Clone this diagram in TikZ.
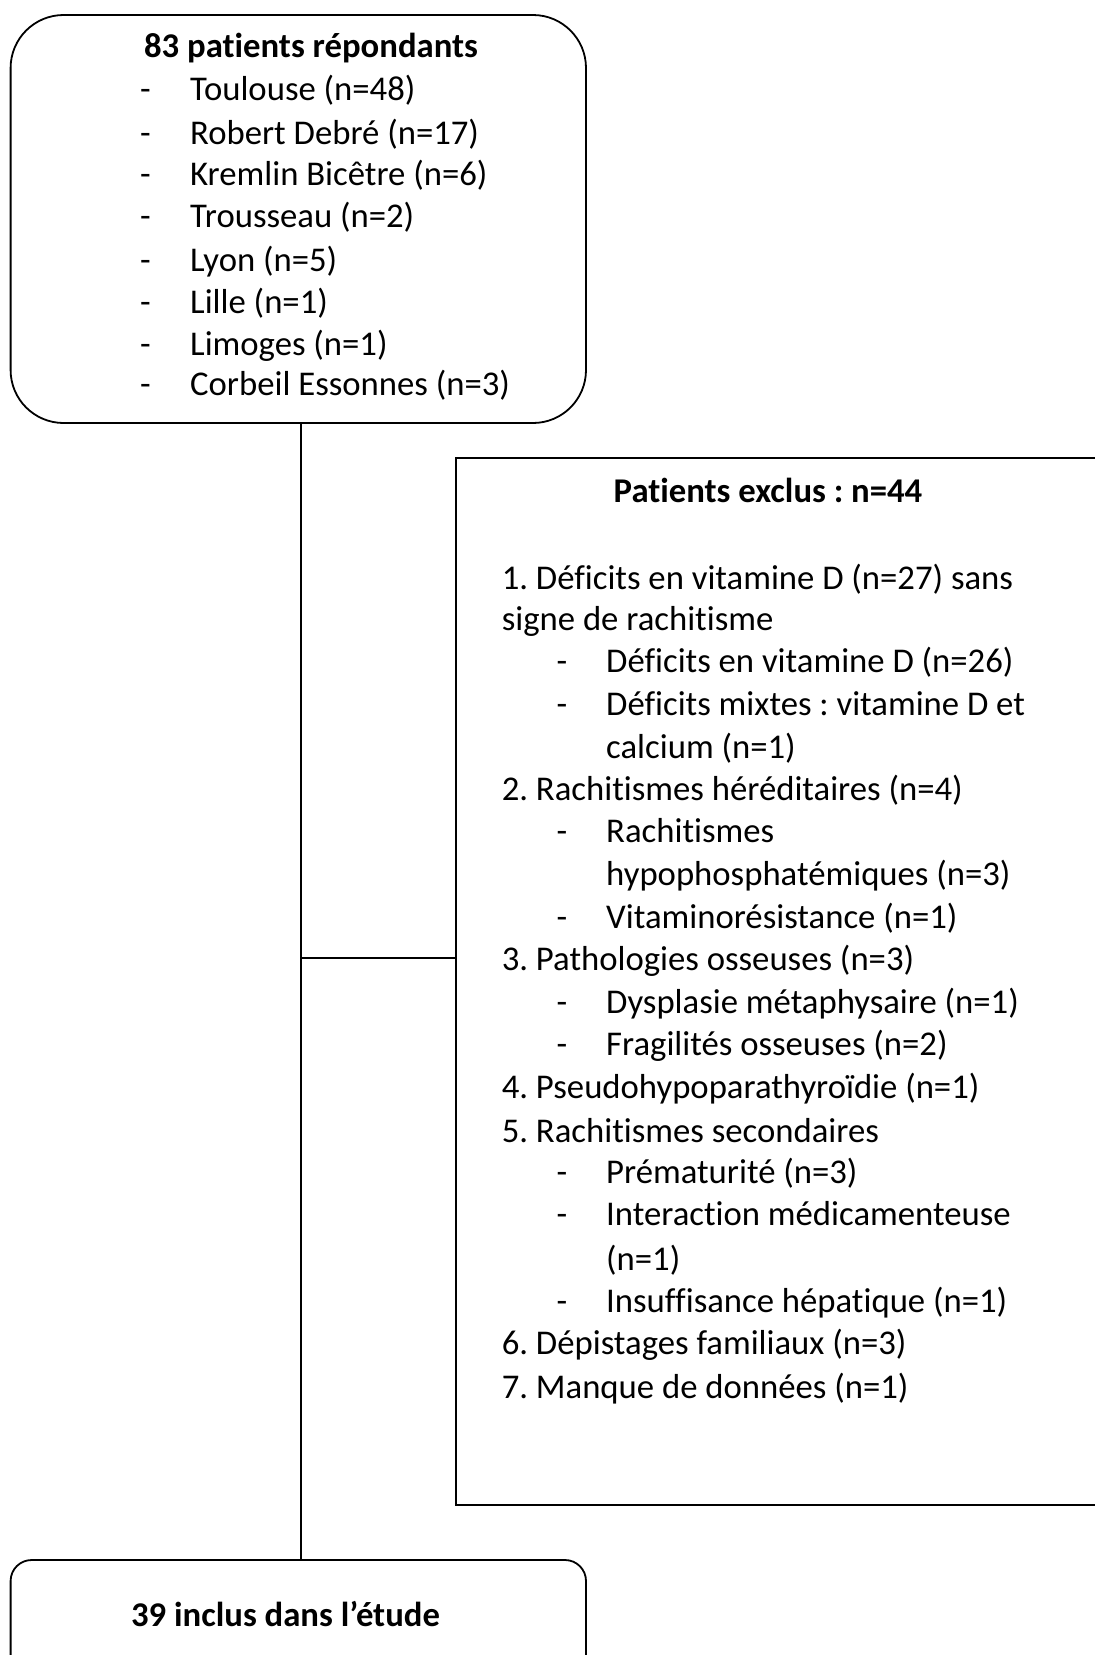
\documentclass[tikz,border=0pt]{standalone}
\usepackage{fontspec}
\setmainfont{Carlito}[Ligatures=NoCommon]
\frenchspacing
\begin{document}
\begin{tikzpicture}[x=1pt,y=-1pt,
  box/.style={draw=black, line width=1.8pt, inner sep=0pt, outer sep=0pt},
  txt/.style={font=\fontsize{34.7}{42}\selectfont, inner sep=0pt, anchor=base west, yshift=-2pt},
  ttl/.style={font=\fontsize{34.7}{42}\selectfont\bfseries, inner sep=0pt, anchor=base, yshift=-2pt},
  conn/.style={draw=black, line width=1.8pt}]
\useasboundingbox (0,0) rectangle (1095,1655);
\clip (0,0) rectangle (1095,1655);
% boxes
\node[box, rounded corners=53pt, minimum width=575.4pt, minimum height=408pt] (topbox) at (298.3,219) {};
\node[box, minimum width=664pt, minimum height=1047pt] (rbox) at (788,981.5) {};
\node[box, rounded corners=21pt, minimum width=575.4pt, minimum height=140pt] (botbox) at (298.3,1630) {};
% connectors
\coordinate (j) at (301,958);
\draw[conn] (topbox.south -| j) -- (botbox.north -| j);
\draw[conn] (j) -- (rbox.west |- j);
% top box text
\node[ttl] (t0) at (311,55.5) {83 patients répondants};
\foreach \n/\y/\s in {1/98/Toulouse (n=48), 2/142/Robert Debré (n=17), 3/183/Kremlin Bicêtre (n=6), 4/225.5/Trousseau (n=2), 5/269/Lyon (n=5), 6/311/Lille (n=1), 7/353/Limoges (n=1), 8/393/Corbeil Essonnes (n=3)}{
  \node[txt] (td\n) at (140,\y) {-};
  \node[txt] (t\n) at (190,\y) {\s};
}
% right box text
\node[ttl] (r0) at (768,500) {Patients exclus : n=44};
\node[txt] (r1) at (501.6,587) {1. Déficits en vitamine D (n=27) sans};
\node[txt] (r2) at (501.6,628) {signe de rachitisme};
\node[txt] (r3d) at (556.5,670) {-};
\node[txt] (r3) at (606,670) {Déficits en vitamine D (n=26)};
\node[txt] (r4d) at (556.5,713) {-};
\node[txt] (r4) at (606,713) {Déficits mixtes : vitamine D et};
\node[txt] (r5) at (606,756) {calcium (n=1)};
\node[txt] (r6) at (501.6,798) {2. Rachitismes héréditaires (n=4)};
\node[txt] (r7d) at (556.5,840) {-};
\node[txt] (r7) at (606,840) {Rachitismes};
\node[txt] (r8) at (606,883) {hypophosphatémiques (n=3)};
\node[txt] (r9d) at (556.5,926) {-};
\node[txt] (r9) at (606,926) {Vitaminorésistance (n=1)};
\node[txt] (r10) at (501.6,968) {3. Pathologies osseuses (n=3)};
\node[txt] (r11d) at (556.5,1011) {-};
\node[txt] (r11) at (606,1011) {Dysplasie métaphysaire (n=1)};
\node[txt] (r12d) at (556.5,1053) {-};
\node[txt] (r12) at (606,1053) {Fragilités osseuses (n=2)};
\node[txt] (r13) at (501.6,1096) {4. Pseudohypoparathyroïdie (n=1)};
\node[txt] (r14) at (501.6,1140) {5. Rachitismes secondaires};
\node[txt] (r15d) at (556.5,1181) {-};
\node[txt] (r15) at (606,1181) {Prématurité (n=3)};
\node[txt] (r16d) at (556.5,1223) {-};
\node[txt] (r16) at (606,1223) {Interaction médicamenteuse};
\node[txt] (r17) at (606,1268) {(n=1)};
\node[txt] (r18d) at (556.5,1310) {-};
\node[txt] (r18) at (606,1310) {Insuffisance hépatique (n=1)};
\node[txt] (r19) at (501.6,1352) {6. Dépistages familiaux (n=3)};
\node[txt] (r20) at (501.6,1396) {7. Manque de données (n=1)};
% bottom box text
\node[ttl] (b0) at (285.5,1624) {39 inclus dans l’étude};
\end{tikzpicture}
\end{document}
